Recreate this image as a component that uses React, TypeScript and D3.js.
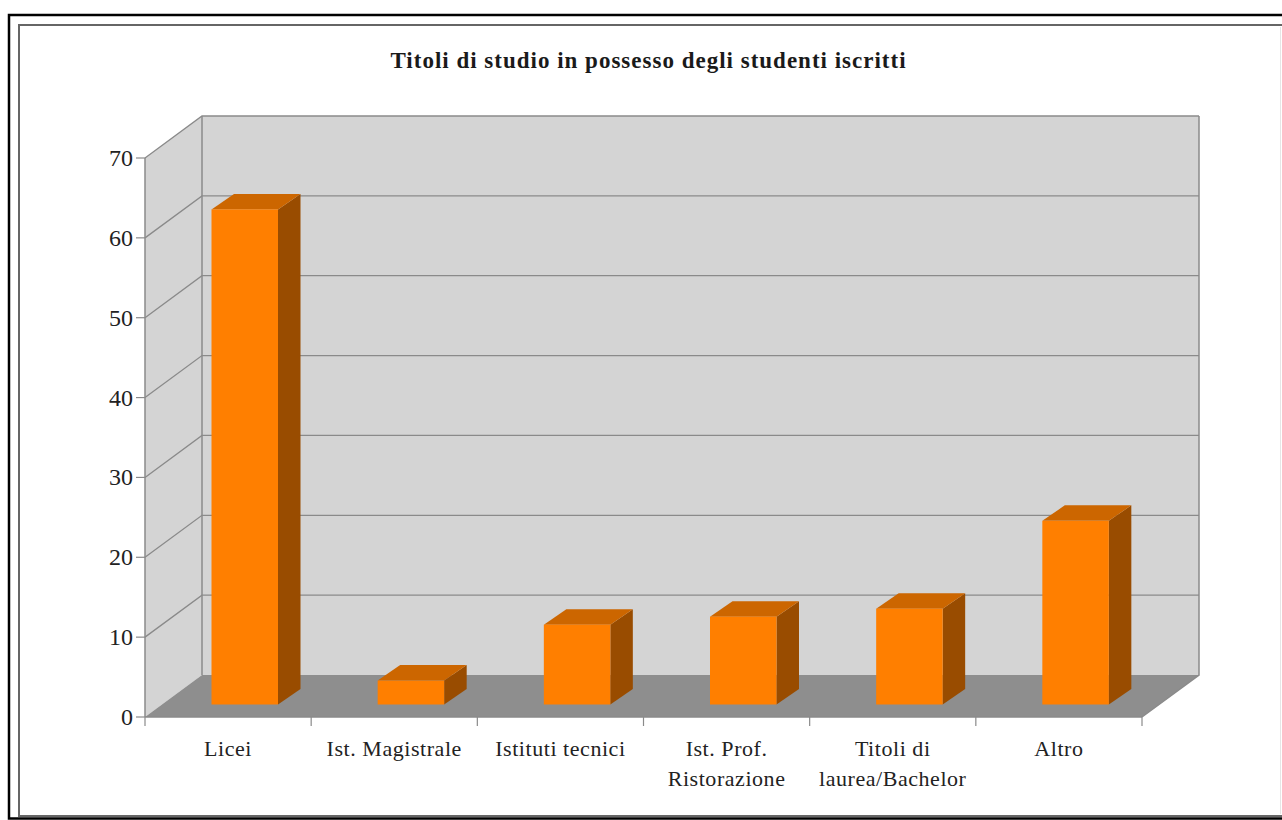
import * as d3 from 'd3'

const categories = [['Licei'], ['Ist. Magistrale'], ['Istituti tecnici'], ['Ist. Prof.', 'Ristorazione'], ['Titoli di', 'laurea/Bachelor'], ['Altro']]
const values = [62, 3, 10, 11, 12, 23]
const yTicks = [0, 10, 20, 30, 40, 50, 60, 70]
const title = 'Titoli di studio in possesso degli studenti iscritti'

const WIDTH = 1282
const HEIGHT = 820
const FONT = '"Liberation Serif", serif'

// depth of the 3d box and of the bars standing in it
const depth = { x: 57, y: -42 }
const barDepth = { x: 22.5, y: -15.5 }
const barRaise = 12.5
const barWidth = 66.5
const axisColor = '#8a8a8a'

const x = d3.scaleBand<number>().domain(d3.range(categories.length)).range([145, 1142])
const y = d3.scaleLinear().domain([0, 70]).range([717, 158])
const barLeft = (i: number) => (x(i) || 0) + 66.5
const labelCenter = (i: number) => (x(i) || 0) + x.bandwidth() / 2

const poly = (pts: [number, number][]) => d3.line()(pts) + 'Z'

export default function App() {
  const left = x.range()[0]
  const right = x.range()[1]
  const bottom = y(0)
  const top = y(70)

  return (
    <svg
      width={WIDTH}
      height={HEIGHT}
      style={{ position: 'absolute', left: 0, top: 0, background: '#fff' }}
      fontFamily={FONT}
    >
      {/* page frame, runs off the right edge */}
      <path d="M1282,15H9V818.5H1282" fill="none" stroke="#000" strokeWidth={2.5} />
      <path d="M1282,25H19V816H1282" fill="none" stroke="#666" strokeWidth={2} />
      <line x1={1280.5} x2={1280.5} y1={27} y2={814} stroke="#e6e6e6" />

      <text x={648.5} y={68} textAnchor="middle" fontSize={23} letterSpacing={1} fontWeight="bold" fill="#1a1a1a">
        {title}
      </text>

      {/* walls */}
      <path
        d={poly([[left, top], [left + depth.x, top + depth.y], [left + depth.x, bottom + depth.y], [left, bottom]])}
        fill="#d4d4d4"
      />
      <rect x={left + depth.x} y={top + depth.y} width={right - left} height={bottom - top} fill="#d4d4d4" />
      <path
        d={poly([[left, bottom], [left + depth.x, bottom + depth.y], [right + depth.x, bottom + depth.y], [right, bottom]])}
        fill="#8e8e8e"
      />

      {/* gridlines */}
      {yTicks.slice(1).map((t) => (
        <path
          key={t}
          d={`M${left},${y(t)}L${left + depth.x},${y(t) + depth.y}H${right + depth.x}`}
          fill="none"
          stroke={axisColor}
          strokeWidth={1.3}
        />
      ))}
      <path
        d={`M${left},${top}V${bottom}M${left + depth.x},${top + depth.y}V${bottom + depth.y}M${right + depth.x},${top + depth.y}V${bottom + depth.y}L${right},${bottom}`}
        fill="none"
        stroke={axisColor}
        strokeWidth={1.5}
      />
      <line x1={left} x2={right} y1={bottom} y2={bottom} stroke={axisColor} strokeWidth={1.5} />

      {/* y axis */}
      {yTicks.map((t) => (
        <g key={t}>
          <line x1={left - 9} x2={left} y1={y(t)} y2={y(t)} stroke={axisColor} strokeWidth={1.2} />
          <text x={left - 12} y={y(t) + 8} textAnchor="end" fontSize={24} fill="#222">
            {t}
          </text>
        </g>
      ))}

      {/* x axis */}
      {d3.range(categories.length + 1).map((i) => {
        const px = left + i * x.bandwidth()
        return <line key={i} x1={px} x2={px} y1={bottom} y2={bottom + 9} stroke={axisColor} strokeWidth={1.2} />
      })}
      {categories.map((lines, i) => (
        <text key={i} textAnchor="middle" fontSize={22} letterSpacing={0.55} fill="#222">
          {lines.map((line, j) => (
            <tspan key={j} x={labelCenter(i)} y={756 + j * 30}>
              {line}
            </tspan>
          ))}
        </text>
      ))}

      {/* bars */}
      {values.map((v, i) => {
        const x0 = barLeft(i)
        const x1 = x0 + barWidth
        const y0 = y(0) - barRaise
        const y1 = y(v) - barRaise
        return (
          <g key={i}>
            <path
              d={poly([[x1, y1], [x1 + barDepth.x, y1 + barDepth.y], [x1 + barDepth.x, y0 + barDepth.y], [x1, y0]])}
              fill="#994c00"
            />
            <path
              d={poly([[x0, y1], [x0 + barDepth.x, y1 + barDepth.y], [x1 + barDepth.x, y1 + barDepth.y], [x1, y1]])}
              fill="#cc6600"
            />
            <rect x={x0} y={y1} width={barWidth} height={y0 - y1} fill="#ff7f00" />
          </g>
        )
      })}
    </svg>
  )
}
